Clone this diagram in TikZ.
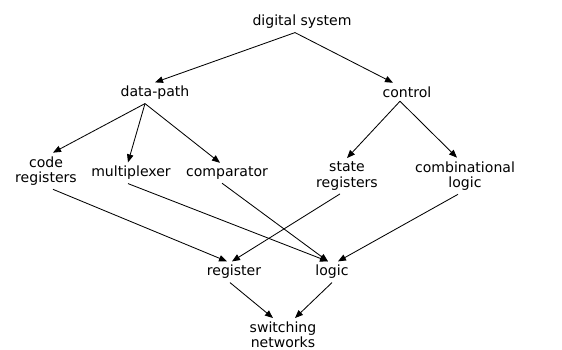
\documentclass[tikz,border=0pt]{standalone}
\usepackage{fontspec}
\setmainfont{DejaVu Sans}
\usepackage{tikz}
\usetikzlibrary{arrows.meta, positioning}

\begin{document}
\begin{tikzpicture}[
    lbl/.style={align=center, inner sep=2.5pt, font=\fontsize{10}{11}\selectfont},
    arr/.style={-{Triangle[length=2mm, width=1.6mm]}, line width=0.6pt}]
        \useasboundingbox (0, 0) rectangle (14.05, 8.75);

        % Top levels
        \node[lbl] (sys) at (7.55, 8.2) {digital system};
        \node[lbl] (dp) at (3.875, 6.425) {data-path};
        \node[lbl] (ctrl) at (10.175, 6.45) {control};

        % Components
        \node[lbl] (code) at (1.15, 4.475) {code\\registers};
        \node[lbl] (mux) at (3.275, 4.425) {multiplexer};
        \node[lbl] (cmp) at (5.675, 4.425) {comparator};
        \node[lbl] (state) at (8.675, 4.35) {state\\registers};
        \node[lbl] (comb) at (11.625, 4.35) {combinational\\logic};

        % Bottom levels
        \node[lbl] (reg) at (5.85, 1.95) {register};
        \node[lbl] (logic) at (8.3, 1.95) {logic};
        \node[lbl] (sw) at (7.075, 0.375) {switching\\networks};

        \draw[arr] ([xshift=-0.175cm]sys.south) -- (dp.north);
        \draw[arr] ([xshift=-0.175cm]sys.south) -- ([xshift=-0.35cm]ctrl.north);

        \draw[arr] ([xshift=-0.25cm]dp.south) -- ([xshift=0.175cm]code.north);
        \draw[arr] ([xshift=-0.25cm]dp.south) -- ([xshift=-0.075cm]mux.north);
        \draw[arr] ([xshift=-0.25cm]dp.south) -- ([xshift=-0.175cm]cmp.north);
        \draw[arr] ([xshift=-0.175cm]ctrl.south) -- (state.north);
        \draw[arr] ([xshift=-0.175cm]ctrl.south) -- ([xshift=-0.2cm]comb.north);

        \draw[arr] ([xshift=0.175cm]code.south) -- ([xshift=-0.175cm]reg.north);
        \draw[arr] ([xshift=-0.075cm]mux.south) -- ([xshift=-0.1cm]logic.north);
        \draw[arr] ([xshift=-0.125cm]cmp.south) -- ([xshift=-0.1cm]logic.north);
        \draw[arr] ([xshift=-0.175cm]state.south) -- ([xshift=-0.05cm]reg.north);
        \draw[arr] ([xshift=-0.175cm]comb.south) -- ([xshift=0.15cm]logic.north);

        \draw[arr] ([xshift=-0.1cm]reg.south) -- ([xshift=-0.25cm]sw.north);
        \draw[arr] (logic.south) -- ([xshift=0.3cm]sw.north);
    \end{tikzpicture}
\end{document}
